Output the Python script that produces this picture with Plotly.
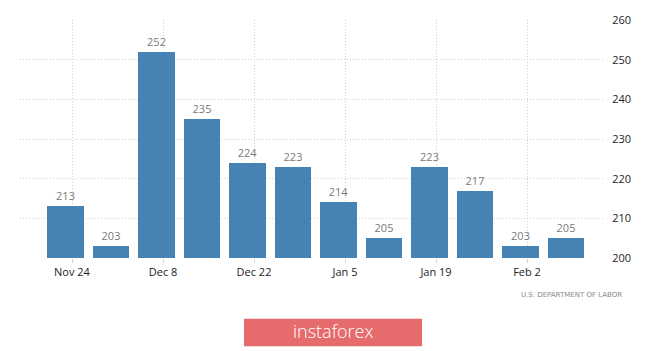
import plotly.graph_objects as go

weeks = ["2018-11-24", "2018-12-01", "2018-12-08", "2018-12-15", "2018-12-22", "2018-12-29",
         "2019-01-05", "2019-01-12", "2019-01-19", "2019-01-26", "2019-02-02", "2019-02-09"]
claims = [213, 203, 252, 235, 224, 223, 214, 205, 223, 217, 203, 205]
tick_dates = ["2018-11-24", "2018-12-08", "2018-12-22", "2019-01-05", "2019-01-19", "2019-02-02"]
tick_text = ["Nov 24", "Dec 8", "Dec 22", "Jan 5", "Jan 19", "Feb 2"]
y_ticks = [200, 210, 220, 230, 240, 250, 260]

DAY = 86400000
bar_w = 5.55 * DAY

T, B = 15, 93
PH = 351 - T - B
BOTTOM = 351 - B

fig = go.Figure()
fig.add_trace(go.Bar(
    x=weeks, y=claims,
    width=bar_w, offset=-bar_w / 2 - 1.0 * DAY,
    marker=dict(color="#4682b4", line=dict(width=0)),
    text=[str(v) for v in claims], textposition="outside",
    textfont=dict(color="#7a7a7a", size=11, family="Open Sans"),
    cliponaxis=False,
))

fig.update_layout(
    width=665, height=351,
    margin=dict(l=20, r=60, t=T, b=B),
    paper_bgcolor="white", plot_bgcolor="white",
    showlegend=False,
    font=dict(family="Open Sans", size=11, color="#333"),
    bargap=0,
)
fig.update_xaxes(
    type="date", range=["2018-11-16", "2019-02-14"],
    tickvals=tick_dates, ticktext=tick_text,
    showgrid=True, gridcolor="#cfcfcf", griddash="1px,2px", gridwidth=1,
    ticks="outside", ticklen=4, tickcolor="#d4d4d4",
    showline=False, zeroline=False,
    tickfont=dict(size=11, color="#222", family="Open Sans"),
)
fig.update_yaxes(
    range=[200, 260], side="right", tickvals=y_ticks,
    showgrid=True, gridcolor="#cfcfcf", griddash="1px,2px", gridwidth=1,
    ticks="outside", ticklen=4, tickcolor="white",
    showline=False, zeroline=False,
    tickfont=dict(size=11, color="#222", family="Open Sans"),
)

fig.add_annotation(
    text="U.S. DEPARTMENT OF LABOR", xref="paper", yref="paper",
    x=(624 - 20) / 585, y=(BOTTOM - 296) / PH, xanchor="right", yanchor="middle",
    showarrow=False, font=dict(size=7, color="#8a8a8a", family="DejaVu Sans"),
)
fig.add_shape(
    type="rect", xref="paper", yref="paper",
    x0=(244 - 20) / 585, x1=(422 - 20) / 585,
    y0=(BOTTOM - 348) / PH, y1=(BOTTOM - 320) / PH,
    fillcolor="#e66b6d", line=dict(width=0),
)
fig.add_annotation(
    text="instaforex", xref="paper", yref="paper",
    x=(333 - 20) / 585, y=(BOTTOM - 333) / PH, xanchor="center", yanchor="middle",
    showarrow=False, font=dict(size=18, color="white", family="Open Sans", weight=300),
)

fig.write_html("out.html")
